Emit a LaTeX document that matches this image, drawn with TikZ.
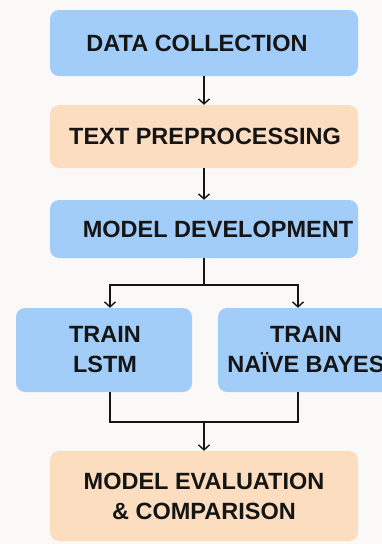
\documentclass[tikz,border=0pt]{standalone}
\usepackage{fontspec}
\setmainfont{Liberation Sans}
\usetikzlibrary{arrows.meta}
\definecolor{bg}{HTML}{FBF9F7}
\definecolor{stepblue}{HTML}{A3CDF9}
\definecolor{steporange}{HTML}{FDDDC0}
\definecolor{ink}{HTML}{151515}
\begin{document}
\begin{tikzpicture}[x=1pt,y=-1pt,
  box/.style={rounded corners=9pt, inner sep=0pt, draw=none},
  bluebox/.style={box, fill=stepblue},
  orangebox/.style={box, fill=steporange},
  txt/.style={font=\fontsize{23.5}{30}\selectfont\bfseries, text=ink, align=center, inner sep=0pt},
  flow/.style={draw=ink, line width=1.4pt, -{Straight Barb[length=5pt,width=11pt,line width=1.4pt]}},
  link/.style={draw=ink, line width=1.4pt}]
\useasboundingbox (0,0) rectangle (382,544);
\fill[bg] (0,0) rectangle (382,544);
\clip (0,0) rectangle (382,544);

% pipeline stages
\node[bluebox, minimum width=308pt, minimum height=66pt,
  label={[txt, xshift=-7pt]center:DATA COLLECTION}] (collect) at (204,43) {};
\node[orangebox, minimum width=308pt, minimum height=63pt,
  label={[txt, xshift=1pt]center:TEXT PREPROCESSING}] (prep) at (204,136.5) {};
\node[bluebox, minimum width=308pt, minimum height=58pt,
  label={[txt, xshift=14pt]center:MODEL DEVELOPMENT}] (model) at (204,229) {};
\node[bluebox, minimum width=176pt, minimum height=84pt,
  label={[txt, xshift=1pt]center:TRAIN\\LSTM}] (lstm) at (104,350) {};
\node[bluebox, minimum width=182pt, minimum height=84pt,
  label={[txt, xshift=-3pt]center:TRAIN\\NAÏVE BAYES}] (nb) at (309,350) {};
\node[orangebox, minimum width=308pt, minimum height=90pt,
  label={[txt]center:MODEL EVALUATION\\\&\ COMPARISON}] (eval) at (204,496) {};

% junction points
\coordinate (split) at (204,285);
\coordinate (merge) at (204,422);

% connectors
\draw[flow] (collect) -- (prep);
\draw[flow] (prep) -- (model);
\draw[link] (model) -- (split);
\draw[flow] (split) -| ([xshift=6pt]lstm.north);
\draw[flow] (split) -| ([xshift=-11pt]nb.north);
\draw[link] ([xshift=6pt]lstm.south) |- (merge) -| ([xshift=-11pt]nb.south);
\draw[flow] (merge) -- (eval);
\end{tikzpicture}
\end{document}
